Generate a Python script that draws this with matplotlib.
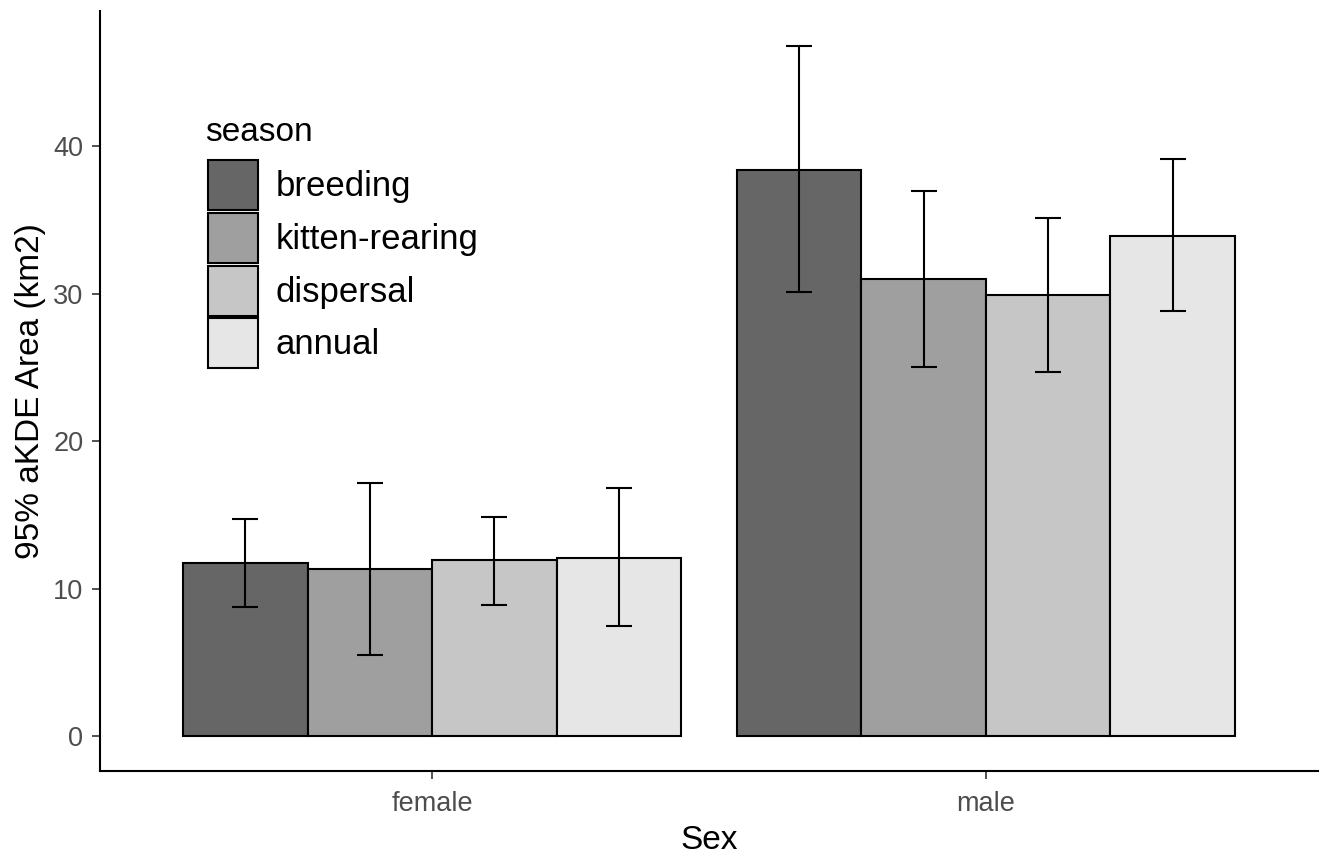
import numpy as np
import matplotlib
matplotlib.use("Agg")
import matplotlib.pyplot as plt
from matplotlib.patches import Patch

# ── Data ─────────────────────────────────────────────────────────────────────
SEX = ["female", "male"]
SEASONS = ["breeding", "kitten-rearing", "dispersal", "annual"]
COLORS = ["#666666", "#9F9F9F", "#C6C6C6", "#E6E6E6"]

MEAN_FEMALE = [11.78, 11.33, 11.94, 12.07]
LO_FEMALE   = [8.74, 5.52, 8.92, 7.50]
HI_FEMALE   = [14.71, 17.19, 14.89, 16.85]

MEAN_MALE = [38.36, 31.00, 29.92, 33.90]
LO_MALE   = [30.10, 25.00, 24.71, 28.83]
HI_MALE   = [46.80, 36.96, 35.10, 39.12]

Y_TICKS = [0, 10, 20, 30, 40]
# ──────────────────────────────────────────────────────────────────────────────

plt.rcParams["font.family"] = ["Liberation Sans", "DejaVu Sans"]

mean = np.array([MEAN_FEMALE, MEAN_MALE]).T   # (season, sex)
lo = np.array([LO_FEMALE, LO_MALE]).T
hi = np.array([HI_FEMALE, HI_MALE]).T

W, H = 1324, 856
fig = plt.figure(figsize=(W / 100, H / 100), dpi=100)
ax = fig.add_axes([100 / W, 85 / H, 1218 / W, 760 / H])

x = np.arange(len(SEX))
width = 0.9 / len(SEASONS)

for i, (season, color) in enumerate(zip(SEASONS, COLORS)):
    xs = x + (i - (len(SEASONS) - 1) / 2) * width
    ax.bar(xs, mean[i], width=width, color=color, edgecolor="black",
           linewidth=1.5, zorder=2)
    ax.errorbar(xs, mean[i], yerr=[mean[i] - lo[i], hi[i] - mean[i]],
                fmt="none", ecolor="black", elinewidth=1.5, capsize=9.7,
                capthick=1.5, zorder=3)

ax.set_xlim(-0.6, 1.6)
ax.set_ylim(-2.34, 49.14)
ax.set_xticks(x)
ax.set_xticklabels(SEX)
ax.set_yticks(Y_TICKS)

ax.tick_params(axis="both", labelsize=19.5, labelcolor="#4D4D4D",
               length=6, width=1.2, color="#333333")
ax.tick_params(axis="y", pad=6)
ax.tick_params(axis="x", pad=8.5)
ax.set_xlabel("Sex", fontsize=24, labelpad=6)
ax.set_ylabel("95% aKDE Area (km2)", fontsize=24, labelpad=5)

for side in ["top", "right"]:
    ax.spines[side].set_visible(False)
for side in ["left", "bottom"]:
    ax.spines[side].set_linewidth(1.5)

# legend: square keys stacked tightly, title placed by hand (ggplot-ish gap)
fs_px = 25 / 72 * 100
key_px = 50
hh = (key_px / fs_px - 0.245) / 0.65   # matplotlib shrinks handle by descent
handles = [Patch(facecolor=c, edgecolor="black", linewidth=1.5) for c in COLORS]
leg = ax.legend(handles, SEASONS, loc="upper left",
                bbox_to_anchor=(208 / W, 1 - 160 / H),
                bbox_transform=fig.transFigure, frameon=False, fontsize=25,
                handlelength=key_px / fs_px, handleheight=hh,
                labelspacing=0.08, handletextpad=0.5,
                borderpad=0, borderaxespad=0)
fig.text(205 / W, 1 - 141 / H, "season", fontsize=24, ha="left",
         va="baseline")

fig.savefig("out.png", dpi=100)
